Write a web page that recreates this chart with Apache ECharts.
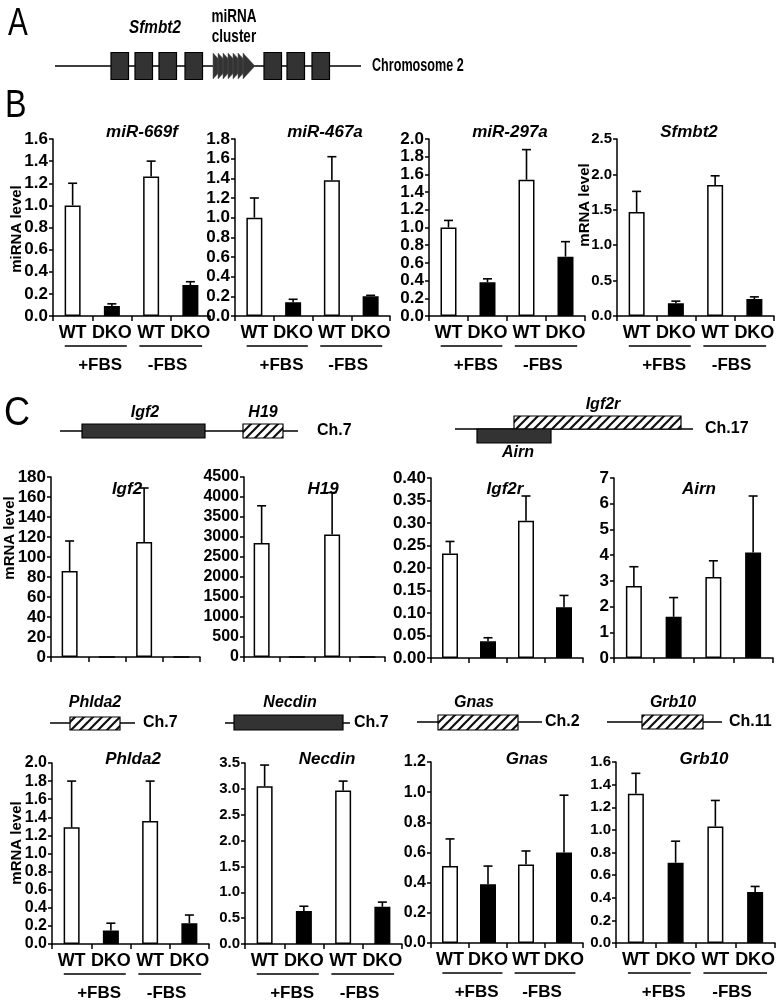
<!DOCTYPE html>
<html>
<head>
<meta charset="utf-8">
<script src="https://cdn.jsdelivr.net/npm/echarts@6/dist/echarts.min.js"></script>
<style>
  html, body { margin: 0; padding: 0; background: #fff; }
  #main { width: 780px; height: 1005px; }
</style>
</head>
<body>
<div id="main"></div>
<script>
// categories
var groups = ['WT', 'DKO', 'WT', 'DKO'];

// B: miRNA / mRNA levels (mean, upper error)
var mir669fMean = [1.00, 0.09, 1.26, 0.28];
var mir669fErr  = [0.20, 0.02, 0.14, 0.03];
var mir467aMean = [1.00, 0.14, 1.38, 0.20];
var mir467aErr  = [0.20, 0.03, 0.24, 0.01];
var mir297aMean = [1.00, 0.38, 1.54, 0.67];
var mir297aErr  = [0.08, 0.04, 0.34, 0.17];
var sfmbt2Mean  = [1.47, 0.18, 1.85, 0.24];
var sfmbt2Err   = [0.29, 0.03, 0.13, 0.03];

// C: imprinted genes
var igf2Mean   = [86, 0, 115, 0];
var igf2Err    = [30, 0, 54, 0];
var h19Mean    = [2850, 0, 3060, 0];
var h19Err     = [930, 0, 1050, 0];
var igf2rMean  = [0.232, 0.037, 0.305, 0.113];
var igf2rErr   = [0.027, 0.008, 0.055, 0.026];
var airnMean   = [2.8, 1.6, 3.15, 4.1];
var airnErr    = [0.75, 0.75, 0.63, 2.2];
var phlda2Mean = [1.29, 0.15, 1.36, 0.23];
var phlda2Err  = [0.51, 0.08, 0.44, 0.09];
var necdinMean = [3.05, 0.64, 2.97, 0.72];
var necdinErr  = [0.41, 0.09, 0.18, 0.09];
var gnasMean   = [0.51, 0.39, 0.52, 0.60];
var gnasErr    = [0.18, 0.12, 0.09, 0.38];
var grb10Mean  = [1.32, 0.71, 1.03, 0.45];
var grb10Err   = [0.18, 0.19, 0.23, 0.05];

// axis ranges: [max, interval, decimals]
var mir669fAxis = [1.6, 0.2, 1];
var mir467aAxis = [1.8, 0.2, 1];
var mir297aAxis = [2.0, 0.2, 1];
var sfmbt2Axis  = [2.5, 0.5, 1];
var igf2Axis    = [180, 20, 0];
var h19Axis     = [4500, 500, 0];
var igf2rAxis   = [0.40, 0.05, 2];
var airnAxis    = [7, 1, 0];
var phlda2Axis  = [2.0, 0.2, 1];
var necdinAxis  = [3.5, 0.5, 1];
var gnasAxis    = [1.2, 0.2, 1];
var grb10Axis   = [1.6, 0.2, 1];

var FONT = '"Liberation Sans", Arial, sans-serif';

// layout of each panel (pixels); fs = tick label size
var panels = [
  {title: 'miR-669f', mean: mir669fMean, err: mir669fErr, axis: mir669fAxis, left: 53,  top: 139, w: 157, h: 177, tx: 137, ty: 119, labels: true,  fs: 17},
  {title: 'miR-467a', mean: mir467aMean, err: mir467aErr, axis: mir467aAxis, left: 235, top: 139, w: 155, h: 177, tx: 320, ty: 119, labels: true,  fs: 17},
  {title: 'miR-297a', mean: mir297aMean, err: mir297aErr, axis: mir297aAxis, left: 429, top: 139, w: 156, h: 177, tx: 505, ty: 119, labels: true,  fs: 17},
  {title: 'Sfmbt2',   mean: sfmbt2Mean,  err: sfmbt2Err,  axis: sfmbt2Axis,  left: 617, top: 139, w: 157, h: 177, tx: 684, ty: 119, labels: true,  fs: 15},
  {title: 'Igf2',     mean: igf2Mean,    err: igf2Err,    axis: igf2Axis,    left: 51,  top: 477, w: 149, h: 180, tx: 122, ty: 476, labels: false, fs: 17},
  {title: 'H19',      mean: h19Mean,     err: h19Err,     axis: h19Axis,     left: 244, top: 477, w: 141, h: 180, tx: 318, ty: 476, labels: false, fs: 16},
  {title: 'Igf2r',    mean: igf2rMean,   err: igf2rErr,   axis: igf2rAxis,   left: 431, top: 478, w: 152, h: 180, tx: 500, ty: 476, labels: false, fs: 17},
  {title: 'Airn',     mean: airnMean,    err: airnErr,    axis: airnAxis,    left: 614, top: 478, w: 159, h: 180, tx: 694, ty: 476, labels: false, fs: 17},
  {title: 'Phlda2',   mean: phlda2Mean,  err: phlda2Err,  axis: phlda2Axis,  left: 52,  top: 763, w: 157, h: 181, tx: 128, ty: 746, labels: true,  fs: 16},
  {title: 'Necdin',   mean: necdinMean,  err: necdinErr,  axis: necdinAxis,  left: 245, top: 763, w: 157, h: 181, tx: 322, ty: 746, labels: true,  fs: 15},
  {title: 'Gnas',     mean: gnasMean,    err: gnasErr,    axis: gnasAxis,    left: 431, top: 762, w: 152, h: 181, tx: 522, ty: 746, labels: true,  fs: 16},
  {title: 'Grb10',    mean: grb10Mean,   err: grb10Err,   axis: grb10Axis,   left: 616, top: 762, w: 159, h: 181, tx: 699, ty: 746, labels: true,  fs: 15}
];

function renderErr(params, api) {
  var x = api.value(0), m = api.value(1), e = api.value(2);
  if (!e) return;
  var p0 = api.coord([x, m]);
  var p1 = api.coord([x, m + e]);
  return {
    type: 'group',
    children: [
      {type: 'line', shape: {x1: p0[0], y1: p0[1], x2: p1[0], y2: p1[1]}, style: {stroke: '#000', lineWidth: 1.6}},
      {type: 'line', shape: {x1: p1[0] - 4.5, y1: p1[1], x2: p1[0] + 4.5, y2: p1[1]}, style: {stroke: '#000', lineWidth: 1.6}}
    ]
  };
}

// diagonal hatch pattern for gene boxes
function hatchCanvas() {
  var n = 9;
  var c = document.createElement('canvas');
  c.width = n; c.height = n;
  var g = c.getContext('2d');
  g.fillStyle = '#fff';
  g.fillRect(0, 0, n, n);
  g.strokeStyle = '#111';
  g.lineWidth = 2.2;
  g.beginPath();
  g.moveTo(-1, n + 1); g.lineTo(n + 1, -1);
  g.moveTo(-3, 3); g.lineTo(3, -3);
  g.moveTo(n - 3, n + 3); g.lineTo(n + 3, n - 3);
  g.stroke();
  return c;
}
var HATCH = {image: hatchCanvas(), repeat: 'repeat'};
var DARK = '#333';

var graphics = [];
function txt(x, y, s, size, opt) {
  opt = opt || {};
  graphics.push({
    type: 'text', x: x, y: y, scaleX: opt.sx || 1, rotation: opt.rot || 0, z: 10,
    style: {
      text: s, fill: '#000', fontFamily: FONT,
      fontSize: size, fontWeight: opt.weight || 'bold', fontStyle: opt.italic ? 'italic' : 'normal',
      align: opt.align || 'center', verticalAlign: 'middle'
    }
  });
}
function hline(x1, x2, y, lw) {
  graphics.push({type: 'line', shape: {x1: x1, y1: y, x2: x2, y2: y}, style: {stroke: '#000', lineWidth: lw || 1.5}, z: 5});
}
function box(x, y, w, h, fill) {
  graphics.push({type: 'rect', shape: {x: x, y: y, width: w, height: h}, style: {fill: fill, stroke: '#000', lineWidth: 1.2}, z: 6});
}

// panel letters
txt(8, 25, 'A', 38, {weight: 'normal', align: 'left', sx: 0.78});
txt(5, 107, 'B', 38, {weight: 'normal', align: 'left', sx: 0.85});
txt(4, 414, 'C', 40, {weight: 'normal', align: 'left', sx: 0.9});

// y axis titles
txt(17, 229, 'miRNA level', 15, {rot: Math.PI / 2});
txt(585, 205, 'mRNA level', 15, {rot: Math.PI / 2});
txt(10, 538, 'mRNA level', 15, {rot: Math.PI / 2});
txt(17, 843, 'mRNA level', 15, {rot: Math.PI / 2});

// A: Sfmbt2 locus with miRNA cluster
hline(55, 361, 66, 1.5);
[111, 135, 159, 185, 264, 287, 312].forEach(function (x) { box(x, 52.5, 17.5, 27, DARK); });
for (var i = 0; i < 7; i++) {
  var x0 = 213 + i * 5;
  graphics.push({type: 'polygon', shape: {points: [[x0, 53], [x0 + 12, 66], [x0, 79]]},
    style: {fill: DARK, stroke: '#5a5a5a', lineWidth: 0.5}, z: 7});
}
txt(155, 28, 'Sfmbt2', 18, {italic: true, sx: 0.85});
txt(234, 17, 'miRNA', 18, {sx: 0.75});
txt(234, 37, 'cluster', 18, {sx: 0.75});
txt(372, 66, 'Chromosome 2', 18, {align: 'left', sx: 0.7});

// C: gene diagrams
hline(60, 298, 431);
box(82, 424, 123, 14, DARK);
box(243, 424, 40, 14, HATCH);
txt(145, 413, 'Igf2', 16, {italic: true});
txt(263, 413, 'H19', 16, {italic: true});
txt(317, 431, 'Ch.7', 16, {align: 'left'});

hline(455, 693, 429);
box(514, 416, 167, 13, HATCH);
box(477, 429, 74, 14, DARK);
txt(603, 405, 'Igf2r', 16, {italic: true});
txt(518, 453, 'Airn', 16, {italic: true});
txt(705, 429, 'Ch.17', 16, {align: 'left'});

hline(50, 135, 723);
box(70, 717, 50, 13, HATCH);
txt(95, 703, 'Phlda2', 16, {italic: true});
txt(143, 723, 'Ch.7', 16, {align: 'left'});

hline(225, 350, 723);
box(234, 715, 109, 15, DARK);
txt(290, 703, 'Necdin', 16, {italic: true});
txt(354, 723, 'Ch.7', 16, {align: 'left'});

hline(417, 542, 722);
box(438, 715, 80, 15, HATCH);
txt(474, 703, 'Gnas', 16, {italic: true});
txt(545, 722, 'Ch.2', 16, {align: 'left'});

hline(607, 722, 722);
box(642, 715, 61, 14, HATCH);
txt(673, 703, 'Grb10', 16, {italic: true});
txt(729, 722, 'Ch.11', 16, {align: 'left'});

var grids = [], xAxes = [], yAxes = [], series = [], titles = [];

panels.forEach(function (p, k) {
  grids.push({left: p.left, top: p.top, width: p.w, height: p.h, containLabel: false, outerBoundsMode: 'none'});
  titles.push({
    text: p.title, left: p.tx, top: p.ty, textAlign: 'center',
    textStyle: {fontFamily: FONT, fontSize: 17, fontWeight: 'bold', fontStyle: 'italic', color: '#000'}
  });
  xAxes.push({
    type: 'category', gridIndex: k, data: groups,
    axisLine: {show: true, lineStyle: {color: '#000', width: 1.5}},
    axisTick: {show: true, length: 5, interval: 0, lineStyle: {color: '#000', width: 1.5}},
    axisLabel: {show: p.labels, interval: 0, margin: 8, color: '#000', fontFamily: FONT, fontSize: 18, fontWeight: 'bold'},
    splitLine: {show: false}
  });
  var d = p.axis[2];
  yAxes.push({
    type: 'value', gridIndex: k, min: 0, max: p.axis[0], interval: p.axis[1],
    axisLine: {show: true, lineStyle: {color: '#000', width: 1.5}},
    axisTick: {show: true, length: 4, lineStyle: {color: '#000', width: 1.5}},
    axisLabel: {color: '#000', margin: 5, fontFamily: FONT, fontSize: p.fs, fontWeight: 'bold',
      formatter: function (v) { return v.toFixed(d); }},
    splitLine: {show: false}
  });
  series.push({
    type: 'bar', xAxisIndex: k, yAxisIndex: k, data: p.mean, barWidth: 16,
    itemStyle: {
      color: function (prm) { return prm.dataIndex % 2 === 0 ? '#fff' : '#000'; },
      borderColor: '#000', borderWidth: 1.5
    },
    emphasis: {disabled: true}, silent: true, animation: false
  });
  series.push({
    type: 'custom', xAxisIndex: k, yAxisIndex: k, renderItem: renderErr, z: 1,
    data: p.err.map(function (e, j) { return [j, p.mean[j], e]; }),
    silent: true, animation: false
  });

  // treatment brackets under WT/DKO pairs
  if (p.labels) {
    var bottom = p.top + p.h;
    hline(p.left + 0.075 * p.w, p.left + 0.47 * p.w, bottom + 30, 1.3);
    hline(p.left + 0.55 * p.w, p.left + 0.95 * p.w, bottom + 30, 1.3);
    txt(p.left + 0.30 * p.w, bottom + 49, '+FBS', 17);
    txt(p.left + 0.73 * p.w, bottom + 49, '-FBS', 17);
  }
});

var chart = echarts.init(document.getElementById('main'));
chart.setOption({
  animation: false,
  backgroundColor: '#fff',
  textStyle: {fontFamily: FONT},
  title: titles,
  grid: grids,
  xAxis: xAxes,
  yAxis: yAxes,
  series: series,
  graphic: graphics
});
</script>
</body>
</html>
